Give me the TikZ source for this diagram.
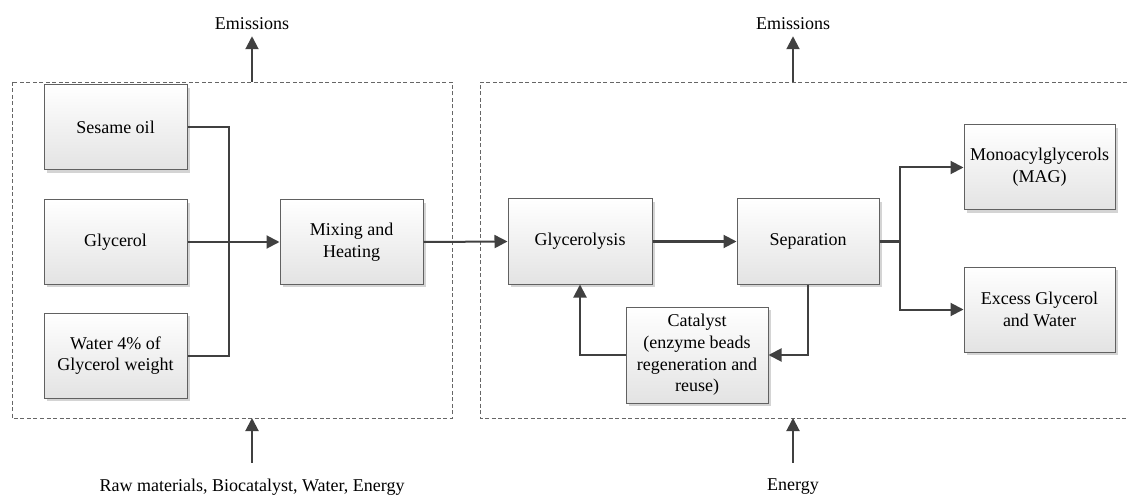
\documentclass[tikz,border=0pt]{standalone}
\usepackage{fontspec}
\setmainfont{Liberation Serif}
\usetikzlibrary{arrows.meta,shadows}
\newcommand\dfont{\fontsize{18}{21.7}\selectfont}
\definecolor{linec}{HTML}{404040}
\tikzset{
  procbox/.style={draw=black!62, line width=1pt, top color=white, bottom color=black!11,
    general shadow={fill=black!17, shadow xshift=3pt, shadow yshift=-3pt},
    inner sep=2pt, align=center, font=\dfont, text=black},
  lbl/.style={font=\dfont, inner sep=6pt},
  conn/.style={draw=linec, line width=2pt},
  arr/.style={conn, -{Triangle[length=13pt,width=13pt]}},
  frame/.style={draw=black!60, line width=0.8pt, dash pattern=on 4pt off 2.5pt}
}
\begin{document}
\begin{tikzpicture}[x=1pt,y=-1pt]
\useasboundingbox (0,0) rectangle (1127,497);
% frames
\draw[frame] (12,82) rectangle (452,418);
\draw[frame] (1127,82) -- (480,82) -- (480,418) -- (1127,418);
\coordinate (f1top) at (252,82);
\coordinate (f1bot) at (252,418);
\coordinate (f2top) at (793,82);
\coordinate (f2bot) at (793,418);
% outer labels
\node[lbl] (em1) at (252,24) {Emissions};
\node[lbl] (em2) at (793,24) {Emissions};
\node[lbl] (raw) at (252,487) {Raw materials, Biocatalyst, Water, Energy};
\node[lbl] (en) at (793,487) {Energy};
% boxes
\node[procbox, minimum width=143pt, minimum height=85pt] (sesame) at (115.5,127.5) {Sesame oil};
\node[procbox, minimum width=143pt, minimum height=84pt] (glycerol) at (115.5,242) {Glycerol};
\node[procbox, minimum width=143pt, minimum height=85pt] (water) at (115.5,355.5) {Water 4\% of\\Glycerol weight};
\node[procbox, minimum width=143pt, minimum height=84pt] (mixing) at (351.5,242) {Mixing and\\Heating};
\node[procbox, minimum width=144pt, minimum height=85pt] (glyc) at (580,241.5) {Glycerolysis};
\node[procbox, minimum width=142pt, minimum height=85pt] (sep) at (808,241.5) {Separation};
\node[procbox, minimum width=151pt, minimum height=85pt] (mag) at (1039.5,167.5) {Monoacylglycerols\\(MAG)};
\node[procbox, minimum width=151pt, minimum height=85pt] (excess) at (1039.5,309.5) {Excess Glycerol\\and Water};
\node[procbox, minimum width=142pt, minimum height=96pt] (cat) at (697,355) {Catalyst\\(enzyme beads\\regeneration and\\reuse)};
% connectors
\coordinate (trunk) at (229,242);
\coordinate (split) at (900,241.5);
\draw[conn] (sesame.east) -| (trunk) |- (water.east);
\draw[arr] (glycerol.east) -- (mixing.west);
\draw[arr] (mixing.east) -- (glyc.west);
\draw[arr] (glyc.east) -- (sep.west);
\draw[conn] (sep.east) -- (split);
\draw[arr] (split) |- (mag.west);
\draw[arr] (split) |- (excess.west);
\draw[arr] (sep.south) |- (cat.east);
\draw[arr] (cat.west) -| (glyc.south);
% emissions / inputs
\draw[arr] (f1top) -- (em1.south);
\draw[arr] (f2top) -- (em2.south);
\draw[arr, shorten <=10pt] (raw.north) -- (f1bot);
\draw[arr, shorten <=10pt] (en.north) -- (f2bot);
\end{tikzpicture}
\end{document}
